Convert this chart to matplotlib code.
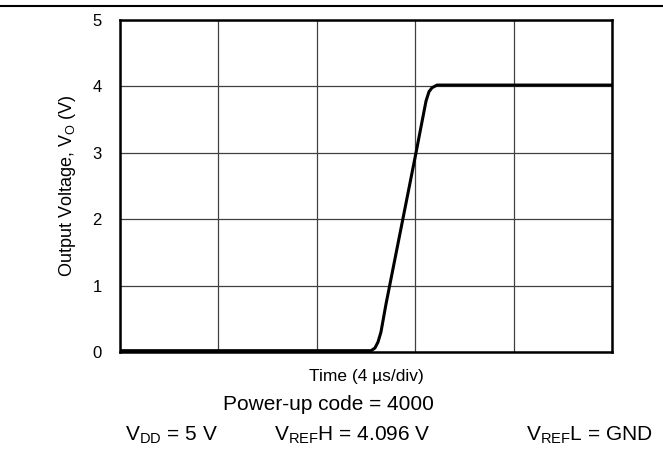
import matplotlib
matplotlib.use('Agg')
import matplotlib.pyplot as plt
from matplotlib.lines import Line2D

plt.rcParams['font.family'] = ['Liberation Sans', 'DejaVu Sans']
plt.rcParams['mathtext.fontset'] = 'custom'
plt.rcParams['mathtext.rm'] = 'Liberation Sans'

# 时间轴以格为单位 (4 µs/div)，共 5 格
t_div = [0.0, 2.551, 2.591, 2.622, 2.652, 2.703, 3.008, 3.110, 3.140, 3.171, 3.222, 5.0]
v_out = [0.02, 0.02, 0.06, 0.15, 0.30, 0.72, 3.00, 3.78, 3.92, 3.98, 4.02, 4.02]
y_ticks = [0, 1, 2, 3, 4, 5]
x_grid = [0, 1, 2, 3, 4, 5]

W, H = 663, 472
fig = plt.figure(figsize=(W / 100, H / 100), dpi=100)
ax = fig.add_axes([120 / W, 1 - 352 / H, 492 / W, 332 / H])

ax.plot(t_div, v_out, color='black', lw=2.2, solid_joinstyle='round', zorder=3)

ax.set_xlim(0, 5)
ax.set_ylim(0, 5)
ax.set_xticks(x_grid)
ax.set_yticks(y_ticks)
ax.set_xticklabels([])
ax.tick_params(length=0, labelsize=12, pad=13)
ax.grid(True, color='#404040', lw=0.9)
for s in ax.spines.values():
    s.set_linewidth(1.8)

# 顶部分隔线
fig.add_artist(Line2D([0, 1], [1 - 6 / H, 1 - 6 / H], color='black', lw=1.5))

fig.text(67 / W, 1 - 186 / H, 'Output Voltage, V$_\\mathregular{O}$ (V)', fontsize=13,
         rotation=90, ha='center', va='center')
fig.text(366 / W, 1 - 376 / H, 'Time (4 µs/div)', fontsize=12.5, ha='center', va='center')
fig.text(328 / W, 1 - 405 / H, 'Power-up code = 4000', fontsize=15, ha='center', va='center')
fig.text(125 / W, 1 - 435 / H, 'V$_\\mathregular{DD}$ = 5 V', fontsize=15, ha='left', va='center')
fig.text(274 / W, 1 - 435 / H, 'V$_\\mathregular{REF}$H = 4.096 V', fontsize=15, ha='left', va='center')
fig.text(526 / W, 1 - 435 / H, 'V$_\\mathregular{REF}$L = GND', fontsize=15, ha='left', va='center')

fig.savefig('out.png', dpi=100)
